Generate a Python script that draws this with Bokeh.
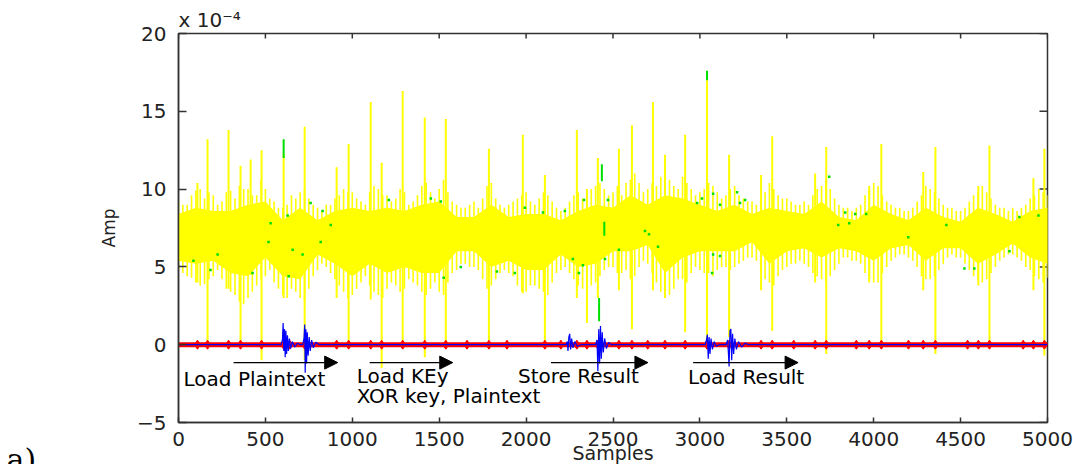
import math
from bokeh.plotting import figure
from bokeh.models import Range1d, Arrow, NormalHead, FixedTicker, ColumnDataSource, Title
from bokeh.core.properties import value
from bokeh.embed import file_html
from bokeh.resources import INLINE

# ---- axis ticks ----
x_ticks = [0, 500, 1000, 1500, 2000, 2500, 3000, 3500, 4000, 4500, 5000]
y_ticks = [-5, 0, 5, 10, 15, 20]

# ---- yellow trace: solid core of the band (every 100 samples), x1e-4 ----
core_x = [0, 100, 200, 300, 400, 500, 600, 700, 800, 900, 1000,
          1100, 1200, 1300, 1400, 1500, 1600, 1700, 1800, 1900, 2000,
          2100, 2200, 2300, 2400, 2500, 2600, 2700, 2800, 2900, 3000,
          3100, 3200, 3300, 3400, 3500, 3600, 3700, 3800, 3900, 4000,
          4100, 4200, 4300, 4400, 4500, 4600, 4700, 4800, 4900, 5000]
core_hi = [8.4, 8.8, 8.6, 8.6, 9.0, 9.2, 8.0, 8.8, 8.0, 8.6, 8.8,
           8.6, 8.8, 8.6, 9.0, 9.2, 8.2, 8.2, 9.0, 8.2, 8.4,
           8.4, 8.0, 8.6, 9.0, 8.8, 9.6, 9.0, 9.6, 9.4, 9.0,
           8.6, 9.0, 8.4, 8.8, 8.6, 8.4, 9.2, 8.2, 8.0, 9.0,
           8.4, 8.0, 8.8, 8.2, 7.9, 8.8, 8.4, 7.9, 8.6, 8.8]
core_lo = [5.4, 5.2, 5.4, 4.6, 4.4, 5.6, 4.4, 4.2, 5.8, 5.2, 4.4,
           5.2, 4.6, 5.0, 4.6, 4.6, 6.0, 6.0, 5.0, 5.4, 4.8,
           4.8, 5.8, 5.0, 5.2, 6.0, 6.0, 6.4, 4.6, 5.6, 6.0,
           6.0, 6.0, 6.6, 5.2, 6.0, 6.2, 5.6, 6.2, 6.0, 5.4,
           6.2, 6.4, 5.4, 6.2, 6.2, 5.2, 5.8, 6.5, 5.6, 5.2]

# ---- yellow trace: fringe strokes, odd set (every 50 samples) ----
stroke_x = [25, 75, 125, 175, 225, 275, 325, 375, 425, 475,
            525, 575, 625, 675, 725, 775, 825, 875, 925, 975,
            1025, 1075, 1125, 1175, 1225, 1275, 1325, 1375, 1425, 1475,
            1525, 1575, 1625, 1675, 1725, 1775, 1825, 1875, 1925, 1975,
            2025, 2075, 2125, 2175, 2225, 2275, 2325, 2375, 2425, 2475,
            2525, 2575, 2625, 2675, 2725, 2775, 2825, 2875, 2925, 2975,
            3025, 3075, 3125, 3175, 3225, 3275, 3325, 3375, 3425, 3475,
            3525, 3575, 3625, 3675, 3725, 3775, 3825, 3875, 3925, 3975,
            4025, 4075, 4125, 4175, 4225, 4275, 4325, 4375, 4425, 4475,
            4525, 4575, 4625, 4675, 4725, 4775, 4825, 4875, 4925, 4975]
stroke_hi = [9.0, 9.6, 10.0, 9.8, 9.0, 9.8, 9.4, 10.0, 9.6, 10.6,
             9.4, 8.8, 9.0, 9.4, 10.0, 9.0, 8.6, 9.0, 9.6, 9.8,
             9.4, 9.0, 10.2, 9.6, 9.2, 10.0, 9.0, 9.6, 10.4, 9.4,
             10.6, 9.2, 8.8, 9.0, 8.8, 10.2, 9.4, 8.8, 9.2, 9.6,
             9.2, 9.4, 9.6, 8.8, 8.8, 9.6, 9.4, 10.0, 10.4, 9.6,
             10.2, 10.4, 11.0, 9.8, 10.4, 10.8, 10.6, 10.0, 10.4, 9.6,
             10.0, 10.2, 9.4, 10.0, 9.6, 9.2, 9.0, 9.8, 10.0, 9.4,
             9.2, 9.0, 9.0, 10.0, 10.6, 9.4, 8.8, 8.6, 9.0, 10.0,
             10.2, 9.2, 8.8, 8.6, 8.8, 9.6, 10.0, 9.4, 8.8, 8.6,
             8.8, 9.6, 10.2, 9.4, 8.8, 8.6, 8.6, 9.0, 9.6, 9.8]
stroke_lo = [4.6, 4.3, 3.8, 4.2, 4.8, 3.6, 3.2, 2.6, 3.4, 4.2,
             4.8, 3.6, 3.0, 3.4, 2.8, 4.4, 5.2, 4.6, 3.8, 3.0,
             3.6, 4.4, 3.4, 3.0, 4.0, 3.4, 4.2, 3.8, 3.2, 4.0,
             3.2, 4.6, 5.2, 5.0, 4.8, 3.6, 4.2, 4.8, 4.4, 3.4,
             3.8, 3.6, 3.2, 4.6, 5.0, 4.2, 3.6, 3.8, 4.4, 5.0,
             4.6, 4.8, 4.4, 5.4, 4.6, 3.4, 3.2, 4.2, 4.0, 5.0,
             4.6, 4.4, 5.0, 4.8, 5.2, 5.6, 5.4, 4.2, 3.8, 4.8,
             5.2, 5.4, 5.0, 4.4, 4.0, 4.8, 5.6, 5.4, 5.2, 4.2,
             4.0, 5.0, 5.6, 5.8, 5.4, 4.4, 4.2, 4.8, 5.6, 5.6,
             5.2, 4.4, 4.0, 4.6, 5.4, 5.8, 5.6, 5.0, 4.4, 4.0]

# ---- yellow trace: fringe strokes, even set (every 50 samples) ----
stroke2_x = [0, 50, 100, 150, 200, 250, 300, 350, 400, 450,
             500, 550, 600, 650, 700, 750, 800, 850, 900, 950,
             1000, 1050, 1100, 1150, 1200, 1250, 1300, 1350, 1400, 1450,
             1500, 1550, 1600, 1650, 1700, 1750, 1800, 1850, 1900, 1950,
             2000, 2050, 2100, 2150, 2200, 2250, 2300, 2350, 2400, 2450,
             2500, 2550, 2600, 2650, 2700, 2750, 2800, 2850, 2900, 2950,
             3000, 3050, 3100, 3150, 3200, 3250, 3300, 3350, 3400, 3450,
             3500, 3550, 3600, 3650, 3700, 3750, 3800, 3850, 3900, 3950,
             4000, 4050, 4100, 4150, 4200, 4250, 4300, 4350, 4400, 4450,
             4500, 4550, 4600, 4650, 4700, 4750, 4800, 4850, 4900, 4950,
             5000]
stroke2_hi = [9.2, 9.0, 9.9, 9.4, 9.6, 9.2, 9.9, 10.2, 10.0, 9.6,
              10.0, 9.2, 8.8, 9.6, 9.8, 9.4, 8.8, 9.0, 9.4, 10.0,
              9.8, 9.2, 9.8, 10.0, 9.6, 9.4, 9.8, 9.2, 10.2, 9.8,
              10.0, 9.8, 9.0, 8.8, 9.2, 9.4, 10.4, 9.0, 9.0, 9.4,
              9.8, 9.0, 9.8, 9.2, 8.6, 9.2, 9.8, 9.6, 10.2, 10.0,
              9.8, 9.6, 10.6, 10.4, 10.0, 10.2, 11.2, 10.2, 10.8, 10.0,
              9.8, 10.4, 9.8, 9.6, 10.2, 9.4, 9.2, 9.4, 10.4, 9.6,
              9.4, 9.0, 9.2, 9.6, 10.2, 10.0, 9.0, 8.8, 8.8, 9.6,
              10.4, 9.6, 9.0, 8.8, 8.6, 9.2, 10.2, 9.8, 9.0, 8.8,
              8.6, 9.2, 9.8, 9.8, 9.0, 8.8, 8.8, 8.8, 9.4, 10.0,
              9.6]
stroke2_lo = [4.8, 4.4, 4.0, 3.9, 4.4, 4.2, 3.4, 2.8, 3.0, 3.8,
              4.4, 4.0, 3.2, 3.6, 3.0, 3.6, 4.8, 5.0, 4.2, 3.4,
              3.2, 4.0, 3.8, 3.2, 3.6, 3.8, 3.6, 4.0, 3.4, 3.6,
              3.4, 4.0, 4.8, 5.2, 5.0, 4.2, 3.8, 4.6, 4.6, 3.8,
              3.4, 3.8, 3.4, 4.0, 4.8, 4.6, 3.8, 3.4, 4.0, 4.8,
              5.0, 4.6, 4.2, 5.0, 5.2, 4.0, 3.4, 3.6, 4.2, 4.6,
              4.8, 4.6, 4.8, 5.0, 5.0, 5.4, 5.6, 4.8, 4.0, 4.4,
              5.0, 5.2, 5.2, 4.6, 4.2, 4.4, 5.2, 5.6, 5.4, 4.6,
              4.0, 4.6, 5.4, 5.8, 5.6, 5.0, 4.2, 4.4, 5.2, 5.8,
              5.6, 4.8, 4.2, 4.2, 5.0, 5.6, 5.8, 5.4, 4.8, 4.2,
              4.3]

# ---- yellow trace: needle peaks (sample, top, bottom) ----
needle_x = [109, 167, 288, 357, 415, 478, 605, 726, 910, 979,
            1106, 1169, 1290, 1417, 1538, 1786, 1981, 2108, 2292, 2350,
            2413, 2534, 2609, 2730, 2799, 2915, 3041, 3168, 3352, 3416,
            3663, 3727, 3974, 4044, 4285, 4355, 4602, 4666, 4919, 4982]
needle_hi = [10.4, 13.2, 13.8, 11.5, 11.9, 12.5, 12.3, 14.0, 11.4, 12.9,
             15.6, 11.7, 16.3, 14.6, 14.5, 12.6, 13.5, 10.9, 13.8, 10.0,
             12.0, 12.6, 14.1, 15.6, 12.2, 13.5, 17.0, 12.2, 10.9, 13.4,
             11.0, 12.7, 10.2, 12.9, 11.1, 12.7, 10.2, 12.8, 10.7, 12.6]
needle_lo = [4.0, -0.2, 3.6, -0.2, 4.5, -1.0, 3.0, -1.0, 3.0, -0.2,
             2.9, -1.5, 0.0, -0.8, -0.2, 0.3, 3.3, 0.0, 3.0, 1.4,
             3.0, 3.5, 1.0, 3.5, 3.0, 0.8, -0.3, 0.5, 3.5, 0.9,
             4.0, -0.6, 4.0, -0.2, 3.5, -0.6, 3.8, 0.0, 3.5, -0.7]

# ---- green trace: parts showing beyond the yellow one ----
green_seg_x = [605, 3041, 2420, 2436, 2450]
green_seg_hi = [13.2, 17.6, 3.0, 11.6, 7.9]
green_seg_lo = [12.0, 17.0, 1.5, 10.5, 7.0]
green_dot_x = [86, 184, 225, 426, 518, 530, 628, 634, 657, 714, 760, 818, 829, 876, 1210,
               1452, 1509, 1526, 1624, 1832, 1935, 1993, 2097, 2223, 2269, 2304, 2327, 2333,
               2454, 2471, 2534, 2684, 2707, 2759, 2984, 3012, 3070, 3076, 3076, 3116, 3116,
               3214, 3231, 3260, 3744, 3796, 3836, 3859, 3894, 3957, 4199, 4418, 4522, 4579,
               4781, 4838, 4948]
green_dot_y = [5.4, 4.8, 5.8, 4.6, 6.6, 7.8, 8.3, 4.4, 6.1, 5.8, 9.1, 6.6, 8.6, 7.7, 9.3,
               9.4, 9.2, 4.3, 5.0, 4.7, 4.6, 8.8, 8.5, 8.6, 5.5, 4.6, 5.1, 9.3,
               5.5, 9.3, 6.1, 7.3, 7.1, 6.3, 9.1, 9.4, 4.6, 9.7, 5.8, 9.0, 5.7,
               9.8, 9.1, 9.3, 10.8, 7.7, 8.5, 7.8, 8.4, 8.4, 6.9, 7.7, 4.9, 4.9,
               6.0, 8.2, 8.3]

# ---- red trace: baseline with small clock spikes ----
red_x = [0, 5000]
red_y = [0.0, 0.0]
red_spike_x = [109, 167, 288, 357, 478, 605, 640, 726, 910, 979, 1106, 1169, 1290, 1417,
               1538, 1660, 1786, 1890, 2108, 2200, 2292, 2350, 2413, 2534, 2609, 2700,
               2799, 2915, 3041, 3168, 3352, 3416, 3540, 3663, 3727, 3900, 3974, 4044,
               4200, 4285, 4355, 4540, 4602, 4666, 4860, 4919, 4982]

# ---- blue trace: flat except for the instruction bursts ----
blue_x = [0,
          590, 598, 602, 606, 610, 614, 618, 622, 627, 632, 638, 645, 655, 668, 685, 700,
          715, 722, 726, 729, 733, 737, 741, 746, 752, 758, 766, 776, 790, 810,
          2230, 2237, 2241, 2246, 2251, 2256, 2262, 2270, 2280, 2295, 2315,
          2400, 2408, 2413, 2418, 2423, 2428, 2433, 2438, 2444, 2452, 2462, 2475, 2490,
          3030, 3038, 3043, 3048, 3053, 3058, 3064, 3072, 3082, 3095, 3110,
          3150, 3160, 3168, 3173, 3178, 3183, 3188, 3194, 3201, 3210, 3222, 3240, 3260, 3280,
          5000]
blue_y = [0.0,
          0.0, 0.3, 1.4, -0.4, 1.0, -0.8, 0.9, -0.6, 0.6, -0.4, 0.4, -0.25, 0.2, -0.15, 0.1, 0.0,
          0.0, 0.4, 1.3, -1.8, 1.0, -1.2, 0.8, -0.7, 0.5, -0.4, 0.3, -0.2, 0.15, 0.0,
          0.0, 0.2, -0.4, 0.5, 0.7, -0.3, 0.4, -0.2, 0.2, -0.1, 0.0,
          0.0, 0.3, -1.7, 1.0, -1.2, 1.2, -0.9, 0.8, -0.5, 0.4, -0.25, 0.15, 0.0,
          0.0, 0.3, 0.65, -0.9, 0.5, -0.6, 0.4, -0.3, 0.2, -0.1, 0.0,
          0.0, 0.3, -1.4, 0.9, 1.0, -1.0, 0.7, -0.6, 0.4, -0.3, 0.2, -0.15, 0.1, 0.0,
          0.0]

# ---- phase annotations ----
arrow_x0 = [317, 1100, 2143, 2961]
arrow_x1 = [916, 1578, 2701, 3565]
arrow_y = [-1.15, -1.15, -1.15, -1.15]
note_x = [29, 1025, 1025, 1953, 2932]
note_y = [-2.2, -2.0, -3.3, -2.0, -2.1]
note_text = ["Load Plaintext", "Load KEy", "XOR key, Plaintext", "Store Result", "Load Result"]

FONT = "DejaVu Sans"
AXIS_COLOR = "#333333"
TEXT_COLOR = "#222222"

p = figure(width=1073, height=464, output_backend="svg", toolbar_location=None,
           x_range=Range1d(0, 5000), y_range=Range1d(-5, 20),
           min_border_left=178, min_border_right=26, min_border_top=33, min_border_bottom=42,
           background_fill_color="white", border_fill_color="white")
p.xgrid.visible = False
p.ygrid.visible = False
p.outline_line_color = AXIS_COLOR
p.outline_line_width = 1.5

for ax, ticks, tick_in in ((p.xaxis[0], x_ticks, 5), (p.yaxis[0], y_ticks, 8)):
    ax.ticker = FixedTicker(ticks=ticks)
    ax.minor_tick_line_color = None
    ax.major_tick_in = tick_in
    ax.major_tick_out = 0
    ax.axis_line_color = AXIS_COLOR
    ax.axis_line_width = 1.5
    ax.major_tick_line_color = AXIS_COLOR
    ax.major_tick_line_width = 1.5
    ax.major_label_text_font = FONT
    ax.major_label_text_color = TEXT_COLOR
    ax.major_label_text_font_size = "20px"
    ax.axis_label_text_font = FONT
    ax.axis_label_text_font_style = "normal"
    ax.axis_label_text_color = TEXT_COLOR

p.xaxis[0].major_label_standoff = 9
p.yaxis[0].major_label_standoff = 12
p.yaxis[0].axis_label = "Amp"
p.yaxis[0].axis_label_text_font_size = "17px"
p.yaxis[0].axis_label_standoff = 15

# ticks on the top and right edges of the box
TOP_TICK = 5 / 15.56
RIGHT_TICK = 8 / 0.1738
p.segment(x0=x_ticks, y0=[20] * len(x_ticks), x1=x_ticks, y1=[20 - TOP_TICK] * len(x_ticks),
          line_color=AXIS_COLOR, line_width=1.5)
p.segment(x0=[5000] * len(y_ticks), y0=y_ticks, x1=[5000 - RIGHT_TICK] * len(y_ticks), y1=y_ticks,
          line_color=AXIS_COLOR, line_width=1.5)

# exponent above the box
p.title = Title(text="x 10\u207b\u2074", align="left", text_font=FONT, text_font_size="20px",
                text_font_style="normal", text_color=TEXT_COLOR, standoff=4)

# x axis title and panel tag, laid into the bottom border
p.add_layout(Title(text="Samples", align="center", text_font=FONT, text_font_size="19px",
                   text_font_style="normal", text_color=TEXT_COLOR,
                   vertical_align="middle", standoff=-15), "below")
p.add_layout(Title(text="a)", align="left", offset=-172, text_font="DejaVu Serif",
                   text_font_size="30px", text_font_style="normal", text_color="black",
                   vertical_align="middle", standoff=-34), "below")

# yellow band, fringe and needles
p.varea(x=core_x, y1=core_lo, y2=core_hi, fill_color="#ffff00")
p.segment(x0=stroke_x, y0=stroke_lo, x1=stroke_x, y1=stroke_hi,
          line_color="#ffff00", line_width=1.6)
p.segment(x0=stroke2_x, y0=stroke2_lo, x1=stroke2_x, y1=stroke2_hi,
          line_color="#ffff00", line_width=1.6)
p.segment(x0=needle_x, y0=needle_lo, x1=needle_x, y1=needle_hi,
          line_color="#ffff00", line_width=2)

# green trace
p.segment(x0=green_seg_x, y0=green_seg_lo, x1=green_seg_x, y1=green_seg_hi,
          line_color="#00e000", line_width=2)
p.scatter(x=green_dot_x, y=green_dot_y, marker="square", size=2.5,
          fill_color="#00e000", line_color=None)

# red trace
p.line(x=red_x, y=red_y, line_color="#ff0000", line_width=5)
p.scatter(x=red_spike_x, y=[0.0] * len(red_spike_x), marker="diamond", size=9,
          fill_color="#ff0000", line_color="#ff0000")

# blue trace
p.line(x=blue_x, y=blue_y, line_color="#0000ff", line_width=1.2)

# arrows and phase names
for xa, xb, ya in zip(arrow_x0, arrow_x1, arrow_y):
    p.add_layout(Arrow(x_start=xa, y_start=ya, x_end=xb, y_end=ya,
                       line_color="black", line_width=1.2,
                       end=NormalHead(size=13, fill_color="black", line_color="black")))
notes = ColumnDataSource(dict(x=note_x, y=note_y, text=note_text))
p.text(x="x", y="y", text="text", source=notes, text_font=value(FONT),
       text_font_size="20px", text_baseline="middle", text_align="left", text_color="black")

open("out.html", "w").write(file_html(p, INLINE))
